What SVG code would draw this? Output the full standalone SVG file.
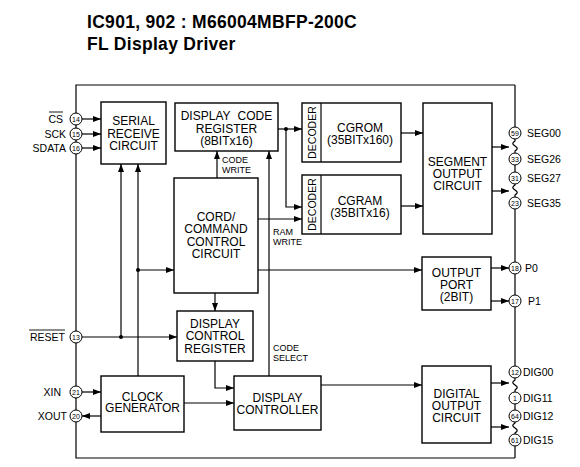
<svg xmlns="http://www.w3.org/2000/svg" width="580" height="467" viewBox="0 0 580 467">
<style>
.t{font-family:"Liberation Sans",Arial,sans-serif;font-size:12px;text-anchor:middle;fill:#000}
.title{font-family:"Liberation Sans",Arial,sans-serif;font-size:17.5px;font-weight:bold;fill:#000;letter-spacing:0.3px}
.s{font-family:"Liberation Sans",Arial,sans-serif;font-size:9px;fill:#000}
.p{font-family:"Liberation Sans",Arial,sans-serif;font-size:10.5px;fill:#000}
.pr{font-family:"Liberation Sans",Arial,sans-serif;font-size:10.5px;fill:#000;text-anchor:end}
.n{font-family:"Liberation Sans",Arial,sans-serif;font-size:7px;text-anchor:middle;fill:#000}
.box{fill:#fff;stroke:#000;stroke-width:1.4}
.ln{fill:none;stroke:#000;stroke-width:1.2}
.ar{fill:none;stroke:#000;stroke-width:1.2;marker-end:url(#ah)}
.pin{fill:#fff;stroke:#000;stroke-width:1}
</style>
<defs>
<marker id="ah" viewBox="0 0 8 6" refX="8" refY="3" markerWidth="8" markerHeight="6" markerUnits="userSpaceOnUse" orient="auto">
<path d="M0,0 L8,3 L0,6 z" fill="#000"/>
</marker>
</defs>
<rect width="580" height="467" fill="#fff"/>
<text class="title" x="87" y="28">IC901, 902 : M66004MBFP-200C</text>
<text class="title" x="87" y="50">FL Display Driver</text>

<g id="frame">
<path class="ln" d="M515,85 L76,85 L76,458 L515,458"/>
<path class="ln" d="M515,85 L515,127 M515,139 L515,141 c-3,2 -3,3 0,5 c3,2 3,3 0,5 L515,153 M515,165 L515,172 M515,184 L515,185 c-3,2 -3,3 0,5 c3,2 3,3 0,5 L515,197 M515,209 L515,262 M515,274 L515,295 M515,307 L515,366 M515,378 L515,380 c-3,2 -3,3 0,5 c3,2 3,3 0,5 L515,392 M515,404 L515,410 M515,422 L515,423 c-3,2 -3,3 0,5 c3,2 3,3 0,5 L515,434 M515,446 L515,458"/>
</g>

<g id="connectors">
<line class="ar" x1="82" y1="119" x2="101" y2="119"/>
<line class="ar" x1="82" y1="134" x2="101" y2="134"/>
<line class="ar" x1="82" y1="148" x2="101" y2="148"/>
<line class="ar" x1="82" y1="337" x2="177" y2="337"/>
<line class="ar" x1="121" y1="337" x2="121" y2="164"/>
<line class="ar" x1="138" y1="376" x2="138" y2="164"/>
<line class="ar" x1="138" y1="270" x2="174" y2="270"/>
<circle cx="121" cy="337" r="2" fill="#000"/>
<circle cx="138" cy="270" r="2" fill="#000"/>
<line class="ar" x1="82" y1="392" x2="101" y2="392"/>
<line class="ar" x1="101" y1="416" x2="82" y2="416"/>
<line class="ar" x1="217" y1="178" x2="217" y2="151"/>
<line class="ar" x1="269" y1="376" x2="269" y2="151"/>
<line class="ar" x1="215" y1="293" x2="215" y2="311"/>
<polyline class="ar" points="215,361 215,388 234,388"/>
<line class="ar" x1="184" y1="403" x2="234" y2="403"/>
<line class="ar" x1="321" y1="385" x2="422" y2="385"/>
<line class="ar" x1="258" y1="270" x2="422" y2="270"/>
<line class="ar" x1="278" y1="129" x2="302" y2="129"/>
<polyline class="ar" points="286,129 286,207 302,207"/>
<circle cx="286" cy="129" r="2" fill="#000"/>
<line class="ar" x1="258" y1="219" x2="302" y2="219"/>
<line class="ar" x1="401" y1="133" x2="423" y2="133"/>
<line class="ar" x1="401" y1="206" x2="423" y2="206"/>
<line class="ar" x1="492" y1="147" x2="509" y2="147"/>
<line class="ar" x1="492" y1="191" x2="509" y2="191"/>
<line class="ar" x1="491" y1="268" x2="509" y2="268"/>
<line class="ar" x1="491" y1="301" x2="509" y2="301"/>
<line class="ar" x1="491" y1="383" x2="509" y2="383"/>
<line class="ar" x1="491" y1="427" x2="509" y2="427"/>
<text class="s" x="222" y="163">CODE</text>
<text class="s" x="222" y="173">WRITE</text>
<text class="s" x="273" y="235">RAM</text>
<text class="s" x="273" y="245">WRITE</text>
<text class="s" x="273" y="351">CODE</text>
<text class="s" x="273" y="361">SELECT</text>
</g>

<g id="serial-receive">
<rect class="box" x="101" y="102" width="65" height="62"/>
<text class="t" x="133.5" y="125">SERIAL</text>
<text class="t" x="133.5" y="137.5">RECEIVE</text>
<text class="t" x="133.5" y="149.5">CIRCUIT</text>
</g>
<g id="display-code-register">
<rect class="box" x="175" y="103" width="103" height="48"/>
<text class="t" x="226.5" y="120" word-spacing="4">DISPLAY CODE</text>
<text class="t" x="226.5" y="132.5">REGISTER</text>
<text class="t" x="226.5" y="145">(8BITx16)</text>
</g>
<g id="cord-command">
<rect class="box" x="174" y="178" width="84" height="115"/>
<text class="t" x="216" y="220.5">CORD/</text>
<text class="t" x="216" y="233">COMMAND</text>
<text class="t" x="216" y="246">CONTROL</text>
<text class="t" x="216" y="258">CIRCUIT</text>
</g>
<g id="display-control-register">
<rect class="box" x="177" y="311" width="76" height="50"/>
<text class="t" x="215" y="327.5">DISPLAY</text>
<text class="t" x="215" y="340">CONTROL</text>
<text class="t" x="215" y="352.5">REGISTER</text>
</g>
<g id="clock-generator">
<rect class="box" x="101" y="376" width="83" height="56"/>
<text class="t" x="142.5" y="400.5">CLOCK</text>
<text class="t" x="142.5" y="412">GENERATOR</text>
</g>
<g id="display-controller">
<rect class="box" x="234" y="376" width="87" height="54"/>
<text class="t" x="277.5" y="401.5">DISPLAY</text>
<text class="t" x="277.5" y="413.5">CONTROLLER</text>
</g>
<g id="cgrom">
<rect class="box" x="302" y="103" width="99" height="59"/>
<line class="ln" x1="321" y1="103" x2="321" y2="162"/>
<text class="t" style="font-size:10.5px" transform="translate(315.5,132.5) rotate(-90)">DECODER</text>
<text class="t" x="360" y="131.5">CGROM</text>
<text class="t" x="360" y="143.5">(35BITx160)</text>
</g>
<g id="cgram">
<rect class="box" x="302" y="175" width="99" height="59"/>
<line class="ln" x1="321" y1="175" x2="321" y2="234"/>
<text class="t" style="font-size:10.5px" transform="translate(315.5,204.5) rotate(-90)">DECODER</text>
<text class="t" x="360" y="204.5">CGRAM</text>
<text class="t" x="360" y="216.5">(35BITx16)</text>
</g>
<g id="segment-output">
<rect class="box" x="423" y="103" width="69" height="131"/>
<text class="t" x="457.5" y="165.5">SEGMENT</text>
<text class="t" x="457.5" y="177.5">OUTPUT</text>
<text class="t" x="457.5" y="189.5">CIRCUIT</text>
</g>
<g id="output-port">
<rect class="box" x="422" y="257" width="69" height="53"/>
<text class="t" x="456.5" y="276.5">OUTPUT</text>
<text class="t" x="456.5" y="288.5">PORT</text>
<text class="t" x="456.5" y="301">(2BIT)</text>
</g>
<g id="digital-output">
<rect class="box" x="422" y="366" width="69" height="77"/>
<text class="t" x="456.5" y="397.5">DIGITAL</text>
<text class="t" x="456.5" y="409.5">OUTPUT</text>
<text class="t" x="456.5" y="422">CIRCUIT</text>
</g>

<g id="pins-left">
<circle class="pin" cx="76" cy="119" r="6"/><text class="n" x="76" y="121.5">14</text>
<circle class="pin" cx="76" cy="134" r="6"/><text class="n" x="76" y="136.5">15</text>
<circle class="pin" cx="76" cy="148" r="6"/><text class="n" x="76" y="150.5">16</text>
<circle class="pin" cx="76" cy="337" r="6"/><text class="n" x="76" y="339.5">13</text>
<circle class="pin" cx="76" cy="392" r="6"/><text class="n" x="76" y="394.5">21</text>
<circle class="pin" cx="76" cy="416" r="6"/><text class="n" x="76" y="418.5">20</text>
<text class="pr" x="63" y="123">CS</text>
<line x1="49" y1="112" x2="63" y2="112" stroke="#000" stroke-width="0.9"/>
<text class="pr" x="66" y="138">SCK</text>
<text class="pr" x="66" y="152">SDATA</text>
<text class="pr" x="65" y="341">RESET</text>
<line x1="29" y1="330" x2="65" y2="330" stroke="#000" stroke-width="0.9"/>
<text class="pr" x="61" y="396">XIN</text>
<text class="pr" x="67" y="420">XOUT</text>
</g>
<g id="pins-right">
<circle class="pin" cx="515" cy="133" r="6"/><text class="n" x="515" y="135.5">59</text>
<circle class="pin" cx="515" cy="159" r="6"/><text class="n" x="515" y="161.5">33</text>
<circle class="pin" cx="515" cy="178" r="6"/><text class="n" x="515" y="180.5">31</text>
<circle class="pin" cx="515" cy="203" r="6"/><text class="n" x="515" y="205.5">23</text>
<circle class="pin" cx="515" cy="268" r="6"/><text class="n" x="515" y="270.5">18</text>
<circle class="pin" cx="515" cy="301" r="6"/><text class="n" x="515" y="303.5">17</text>
<circle class="pin" cx="515" cy="372" r="6"/><text class="n" x="515" y="374.5">12</text>
<circle class="pin" cx="515" cy="398" r="6"/><text class="n" x="515" y="400.5">1</text>
<circle class="pin" cx="515" cy="416" r="6"/><text class="n" x="515" y="418.5">64</text>
<circle class="pin" cx="515" cy="440" r="6"/><text class="n" x="515" y="442.5">61</text>
<text class="p" x="527" y="137">SEG00</text>
<text class="p" x="527" y="163">SEG26</text>
<text class="p" x="527" y="182">SEG27</text>
<text class="p" x="527" y="207">SEG35</text>
<text class="p" x="525" y="272">P0</text>
<text class="p" x="528" y="305">P1</text>
<text class="p" x="523" y="376">DIG00</text>
<text class="p" x="523" y="402">DIG11</text>
<text class="p" x="523" y="420">DIG12</text>
<text class="p" x="523" y="444">DIG15</text>
</g>
</svg>
